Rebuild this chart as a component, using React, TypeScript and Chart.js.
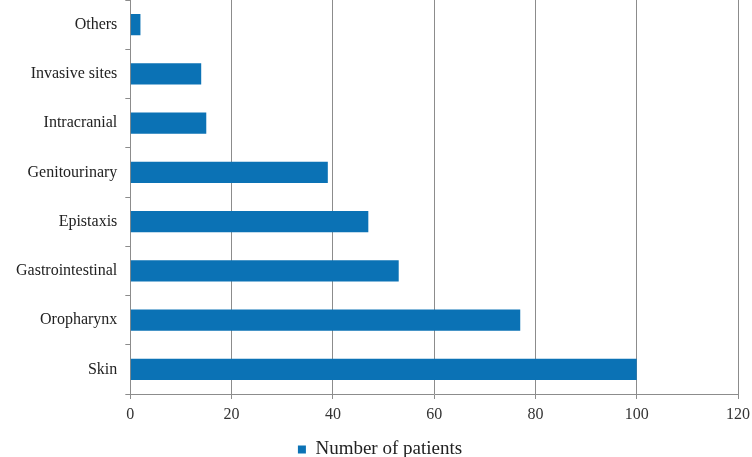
import React, { useEffect, useRef } from "react";
import { Chart, registerables } from "chart.js";

Chart.register(...registerables);

const categories = [
  "Others",
  "Invasive sites",
  "Intracranial",
  "Genitourinary",
  "Epistaxis",
  "Gastrointestinal",
  "Oropharynx",
  "Skin",
];
const patients = [2, 14, 15, 39, 47, 53, 77, 100];
const seriesLabel = "Number of patients";
const xMin = 0;
const xMax = 120;
const xStep = 20;

const legendShift = {
  id: "legendShift",
  afterLayout(chart: any) {
    const l = chart.legend;
    if (l) {
      l.top += 12;
      l.bottom += 12;
      l.left += 7;
      l.right += 7;
    }
  },
};

export default function App() {
  const ref = useRef<HTMLCanvasElement | null>(null);
  useEffect(() => {
    document.body.style.margin = "0";
    const family = "'Liberation Serif', 'Times New Roman', serif";
    const font = { family, size: 16 };
    const chart = new Chart(ref.current!, {
      type: "bar",
      data: {
        labels: categories,
        datasets: [
          {
            label: seriesLabel,
            data: patients,
            backgroundColor: "#0B72B5",
            borderWidth: 0,
            barPercentage: 0.43,
            categoryPercentage: 1,
          },
        ],
      },
      plugins: [legendShift],
      options: {
        indexAxis: "y",
        animation: false,
        responsive: false,
        maintainAspectRatio: false,
        layout: { padding: { top: 0, right: 14, left: 8, bottom: 0 } },
        plugins: {
          tooltip: { enabled: false },
          legend: {
            position: "bottom",
            align: "center",
            labels: {
              font: { family, size: 19 },
              color: "#222",
              boxWidth: 8,
              boxHeight: 8,
              padding: 1,
            },
          },
        },
        scales: {
          x: {
            min: xMin,
            max: xMax,
            ticks: { stepSize: xStep, font, color: "#333", padding: 6 },
            grid: { color: "#8c8c8c", lineWidth: 1, tickLength: 5, drawTicks: true },
            border: { color: "#8c8c8c" },
            afterFit: (s: any) => {
              s.paddingLeft = 0;
              s.paddingRight = 0;
              s.height = 33;
            },
          },
          y: {
            ticks: { font, color: "#222", padding: 8 },
            grid: { drawOnChartArea: false, color: "#8c8c8c", tickLength: 5, offset: true },
            border: { color: "#8c8c8c" },
            afterFit: (s: any) => {
              s.paddingTop = 0;
              s.paddingBottom = 0;
            },
          },
        },
      },
    });
    return () => chart.destroy();
  }, []);
  return (
    <div style={{ width: 752, height: 457, background: "#fff" }}>
      <canvas ref={ref} width={752} height={457} style={{ display: "block" }} />
    </div>
  );
}
